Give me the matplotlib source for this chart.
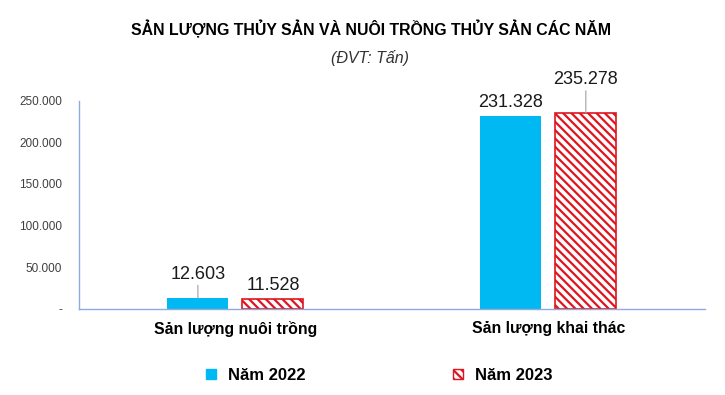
import numpy as np
import matplotlib.pyplot as plt
from matplotlib.patches import Patch

plt.rcParams['font.family'] = ['Liberation Sans', 'DejaVu Sans']
plt.rcParams['hatch.linewidth'] = 1.6

# data
categories = ['Sản lượng nuôi trồng', 'Sản lượng khai thác']
y2022 = [12603, 231328]
y2023 = [11528, 235278]
series_names = ['Năm 2022', 'Năm 2023']

blue = '#00B8F2'
red = '#E0141E'


def fmt(v):
    return f'{v:,.0f}'.replace(',', '.')


fig = plt.figure(figsize=(7.25, 3.95), dpi=100)
ax = fig.add_axes([0.109, 0.218, 0.863, 0.527])

x = np.arange(len(categories))
w = 0.195
off = 0.12
ax.bar(x - off, y2022, w, color=blue, edgecolor=blue, linewidth=0)
ax.bar(x + off, y2023, w, color='white', edgecolor=red, hatch='\\\\\\\\', linewidth=1.2)

ax.set_xlim(-0.5, 1.5)
ax.set_ylim(0, 250000)
ax.set_yticks(np.arange(0, 250001, 50000))
ax.set_yticklabels(['-'] + [fmt(v) for v in range(50000, 250001, 50000)],
                   fontsize=8.5, color='#404040')
ax.set_xticks(x)
ax.set_xticklabels(categories, fontsize=11.4, fontweight='bold')
ax.tick_params(axis='both', length=0)
ax.tick_params(axis='x', pad=9)
ax.tick_params(axis='y', pad=12)

for s in ['top', 'right']:
    ax.spines[s].set_visible(False)
for s in ['left', 'bottom']:
    ax.spines[s].set_color('#8FAADC')
    ax.spines[s].set_linewidth(1)

# value labels, some with leader lines
label_off = [(19000, 6000), (6000, 30000)]
leader = [(True, False), (False, True)]
for i in range(len(categories)):
    pairs = [(x[i] - off, y2022[i], label_off[i][0], leader[i][0]),
             (x[i] + off, y2023[i], label_off[i][1], leader[i][1])]
    for xs, v, dy, ld in pairs:
        props = dict(arrowstyle='-', color='#a0a0a0', lw=0.8, shrinkA=0, shrinkB=0) if ld else None
        ax.annotate(fmt(v), xy=(xs, v), xytext=(xs, v + dy), ha='center', va='bottom',
                    fontsize=13, color='#1a1a1a', annotation_clip=False,
                    arrowprops=props)

fig.text(0.512, 0.925, 'SẢN LƯỢNG THỦY SẢN VÀ NUÔI TRỒNG THỦY SẢN CÁC NĂM',
         ha='center', va='center', fontsize=11.4, fontweight='bold')
fig.text(0.511, 0.853, '(ĐVT: Tấn)', ha='center', va='center', fontsize=11.5,
         style='italic', color='#333333')

handles = [Patch(facecolor=blue, edgecolor=blue),
           Patch(facecolor='white', edgecolor=red, hatch='\\\\\\\\')]
fig.legend(handles, series_names, loc='center', bbox_to_anchor=(0.523, 0.05), ncol=2,
           frameon=False, prop={'weight': 'bold', 'size': 12}, handlelength=0.6,
           handleheight=0.6, columnspacing=8.9, handletextpad=0.7)

fig.savefig('out.png', dpi=100)
